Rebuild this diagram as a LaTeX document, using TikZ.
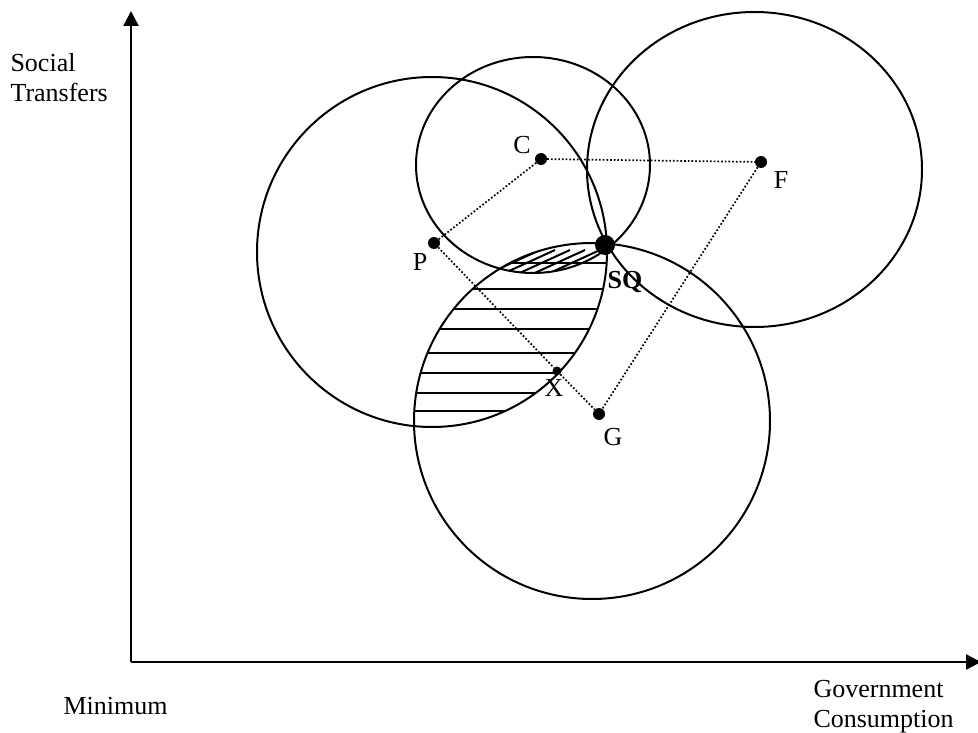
\documentclass[tikz,border=0pt]{standalone}
\usepackage{fontspec}
\setmainfont{Liberation Serif}
\usetikzlibrary{arrows.meta}

\begin{document}
\begin{tikzpicture}[x=1pt,y=-1pt,font=\fontsize{26}{30}\selectfont,
  ring/.style={line width=2pt},
  axisline/.style={line width=2.4pt,-{Triangle[length=15pt,width=15pt]}},
  dotline/.style={dotted,line width=1.7pt},
  hatch/.style={line width=2pt},
  spot/.style={circle,fill,inner sep=0pt,minimum size=12pt},
  bigspot/.style={circle,fill,inner sep=0pt,minimum size=20pt}]
  \useasboundingbox (0,0) rectangle (978,733);

  % axes
  \coordinate (o) at (131,662);
  \coordinate (ytip) at (131,11);
  \coordinate (xtip) at (981,662);
  \draw[axisline] (o) -- (ytip);
  \draw[axisline] (o) -- (xtip);
  \node[anchor=west,align=left] (ylab) at (7,78) {Social\\Transfers};
  \node[anchor=west] (minlab) at (60,706) {Minimum};
  \node[anchor=west,align=left] (xlab) at (810,707) {Government\\Consumption};

  % hatched areas
  \begin{scope}
    \clip (432,252) circle [radius=175];
    \clip (592,421) circle [radius=178];
    \foreach \h in {263,289,309,329,353,373,393,411}
      \draw[hatch] (400,\h) -- (640,\h);
    \clip (533,165) ellipse [x radius=117,y radius=108];
    \foreach \s in {440,455,...,640}
      \draw[hatch] (\s,282) -- ++(70,-32);
  \end{scope}

  % indifference circles
  \draw[ring] (432,252) circle [radius=175];
  \draw[ring] (533,165) ellipse [x radius=117,y radius=108];
  \draw[ring] (754.5,169.5) ellipse [x radius=167.5,y radius=157.5];
  \draw[ring] (592,421) circle [radius=178];

  % ideal points
  \node[spot] (c) at (541,159) {};
  \node[spot] (f) at (761,162) {};
  \node[spot] (p) at (434,243) {};
  \node[spot] (g) at (599,414) {};
  \node[spot,minimum size=9pt] (x) at (557,371) {};
  \node[bigspot] (sq) at (605,245) {};

  \draw[dotline] (c) -- (f);
  \draw[dotline] (c) -- (p);
  \draw[dotline] (p) -- (x) -- (g);
  \draw[dotline] (f) -- (g);

  \node (clab) at (522,145) {C};
  \node (flab) at (781,180) {F};
  \node (plab) at (420,262) {P};
  \node (glab) at (613,437) {G};
  \node (xlab2) at (554,388) {X};
  \node[font=\fontsize{26}{30}\selectfont\bfseries] (sqlab) at (625,282) {SQ};
\end{tikzpicture}
\end{document}
